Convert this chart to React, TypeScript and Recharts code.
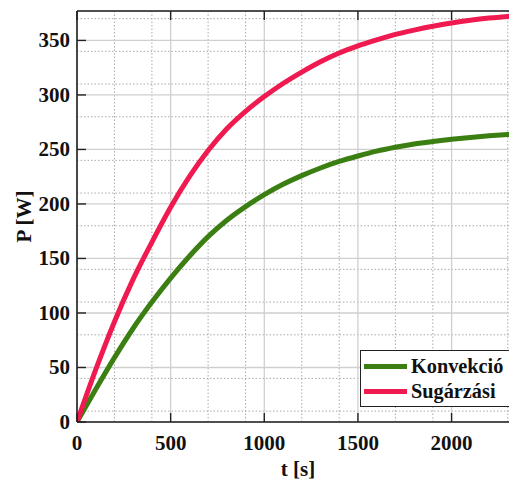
import React from 'react';
import { LineChart, Line, XAxis, YAxis, CartesianGrid, Legend, Label } from 'recharts';

const timeValues = [0, 100, 200, 300, 400, 500, 600, 700, 800, 900, 1000, 1100, 1200, 1300, 1400, 1500, 1600, 1700, 1800, 1900, 2000, 2100, 2200, 2300, 2360];
const konvekcioValues = [0, 30, 59, 86, 110, 132, 152, 170, 185, 197.5, 208.5, 218, 226, 233, 239, 244, 248.5, 252, 255, 257.3, 259.3, 261, 262.5, 263.7, 264.3];
const sugarzasiValues = [0, 48, 92, 131, 165, 197, 225, 249, 269, 285, 298.5, 310.5, 321, 330.5, 338.5, 345, 350.5, 355.5, 359.5, 363, 366, 368.5, 370.5, 372, 373];

const xTicks = [0, 500, 1000, 1500, 2000];
const yTicks = [0, 50, 100, 150, 200, 250, 300, 350];
const xMinorTicks = [100, 200, 300, 400, 600, 700, 800, 900, 1100, 1200, 1300, 1400, 1600, 1700, 1800, 1900, 2100, 2200, 2300];
const yMinorTicks = [10, 20, 30, 40, 60, 70, 80, 90, 110, 120, 130, 140, 160, 170, 180, 190, 210, 220, 230, 240, 260, 270, 280, 290, 310, 320, 330, 340, 360, 370];

const seriesNames = ['Konvekció', 'Sugárzási'];
const seriesColors = ['#3B7F12', '#EF1A4F'];
const xLabel = 't [s]';
const yLabel = 'P [W]';

const X_DOMAIN: [number, number] = [0, 2360];
const Y_DOMAIN: [number, number] = [0, 377];

const data = timeValues.map((t, i) => ({ t, konv: konvekcioValues[i], sug: sugarzasiValues[i] }));

const FONT = '"Liberation Serif", "Times New Roman", serif';
const textStyle = { fontFamily: FONT, fontWeight: 700, fontSize: 21, fill: '#111' } as const;
const TICK_LEN = 9;
const AX = '#222';

const BottomTick = (props: any) => {
  const { x, y, payload } = props;
  return (
    <g>
      <line x1={x} y1={y} x2={x} y2={y - TICK_LEN} stroke={AX} strokeWidth={1.4} />
      <text x={x} y={y + 28} textAnchor="middle" style={textStyle}>{payload.value}</text>
    </g>
  );
};
const TopTick = (props: any) => {
  const { x, y } = props;
  return <line x1={x} y1={y} x2={x} y2={y + TICK_LEN} stroke={AX} strokeWidth={1.4} />;
};
const LeftTick = (props: any) => {
  const { x, y, payload } = props;
  return (
    <g>
      <line x1={x} y1={y} x2={x + TICK_LEN} y2={y} stroke={AX} strokeWidth={1.4} />
      <text x={x - 7} y={y + 7} textAnchor="end" style={textStyle}>{payload.value}</text>
    </g>
  );
};
const RightTick = (props: any) => {
  const { x, y } = props;
  return <line x1={x} y1={y} x2={x - TICK_LEN} y2={y} stroke={AX} strokeWidth={1.4} />;
};

const LegendBox = () => (
  <div style={{ width: 151, height: 57, boxSizing: 'border-box', border: '1.5px solid #222', background: '#fff', paddingTop: 3 }}>
    {seriesNames.map((n, i) => (
      <div key={n} style={{ display: 'flex', alignItems: 'center', height: 25 }}>
        <div style={{ width: 43, height: 4.5, background: seriesColors[i], marginLeft: 3, marginRight: 4 }} />
        <span style={{ fontFamily: FONT, fontWeight: 700, fontSize: 20.3, color: '#111', lineHeight: '25px', whiteSpace: 'nowrap' }}>{n}</span>
      </div>
    ))}
  </div>
);

export default function App() {
  return (
    <div style={{ width: 509, height: 472, overflow: 'hidden' }}>
      <LineChart width={512} height={472} data={data} margin={{ top: 2, right: 0, bottom: 0, left: 0 }}>
        <XAxis xAxisId="minor" dataKey="t" type="number" domain={X_DOMAIN} ticks={xMinorTicks} hide allowDataOverflow />
        <YAxis yAxisId="minor" type="number" domain={Y_DOMAIN} ticks={yMinorTicks} hide allowDataOverflow />
        <CartesianGrid xAxisId="minor" yAxisId="minor" stroke="#aaaaaa" strokeDasharray="1.5 2" strokeWidth={1} />
        <CartesianGrid stroke="#cfcfcf" strokeWidth={1.3} />
        <XAxis dataKey="t" type="number" domain={X_DOMAIN} ticks={xTicks} interval={0} height={58}
          tickSize={0} tickMargin={0} tickLine={false} tick={<BottomTick />} axisLine={{ stroke: AX, strokeWidth: 1.6 }} allowDataOverflow>
          <Label content={(p: any) => {
            const vb = p.viewBox;
            return <text x={vb.x + vb.width / 2} y={vb.y + vb.height - 4} textAnchor="middle" style={textStyle}>{xLabel}</text>;
          }} />
        </XAxis>
        <XAxis xAxisId="top" orientation="top" dataKey="t" type="number" domain={X_DOMAIN} ticks={xTicks} interval={0} height={1}
          tickSize={0} tickMargin={0} tickLine={false} tick={<TopTick />} axisLine={{ stroke: AX, strokeWidth: 1.6 }} allowDataOverflow />
        <YAxis type="number" domain={Y_DOMAIN} ticks={yTicks} interval={0} width={69}
          tickSize={0} tickMargin={0} tickLine={false} tick={<LeftTick />} axisLine={{ stroke: AX, strokeWidth: 1.6 }} allowDataOverflow>
          <Label content={(p: any) => {
            const vb = p.viewBox;
            const cx = vb.x + 16;
            const cy = vb.y + vb.height / 2;
            return <text x={cx} y={cy} textAnchor="middle" transform={`rotate(-90 ${cx} ${cy})`} dy={7} style={textStyle}>{yLabel}</text>;
          }} />
        </YAxis>
        <YAxis yAxisId="right" orientation="right" type="number" domain={Y_DOMAIN} ticks={yTicks} interval={0} width={1}
          tickSize={0} tickMargin={0} tickLine={false} tick={<RightTick />} axisLine={{ stroke: AX, strokeWidth: 1.6 }} allowDataOverflow />
        <Line dataKey="konv" name={seriesNames[0]} stroke={seriesColors[0]} strokeWidth={5} dot={false} type="monotone" isAnimationActive={false} />
        <Line dataKey="sug" name={seriesNames[1]} stroke={seriesColors[1]} strokeWidth={5} dot={false} type="monotone" isAnimationActive={false} />
        <Legend content={<LegendBox />} layout="horizontal" verticalAlign="middle" align="center"
          wrapperStyle={{ position: 'absolute', left: 352, top: 342, width: 151, height: 57 }} />
      </LineChart>
    </div>
  );
}
